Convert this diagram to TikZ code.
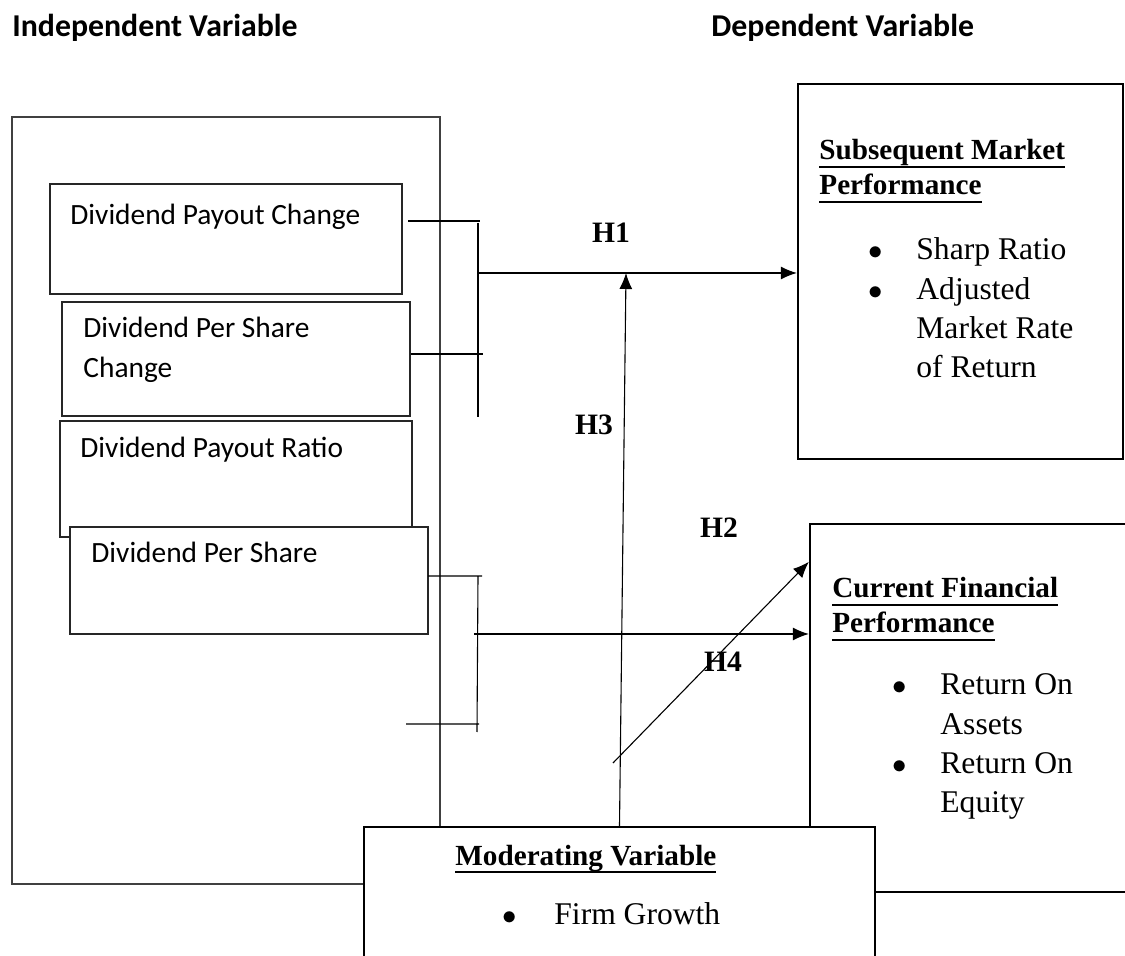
\documentclass[tikz,border=0pt]{standalone}
\usepackage{fontspec}
\setmainfont{Liberation Serif}
\newfontfamily\carlito{Carlito}
\usetikzlibrary{fit,positioning,arrows.meta}

\newcommand{\ulhead}[1]{\setbox0\hbox{#1}\rlap{\rule[-4pt]{\wd0}{1pt}}\box0}
\newcommand{\itembul}{\makebox[24pt][l]{$\bullet$}}

\begin{document}
\begin{tikzpicture}[x=0.5pt,y=-0.5pt]
\tikzstyle{indepbox}=[rectangle, inner sep=0pt, draw=black!75, line width=0.6pt]
\tikzstyle{varbox}=[rectangle, inner sep=0pt, draw=black!85, line width=0.65pt, fill=white]
\tikzstyle{perfbox}=[rectangle, inner sep=0pt, draw=black, line width=1.15pt, fill=white]
\tikzstyle{wire}=[line width=0.55pt]
\tikzstyle{connect}=[-{Latex[length=8pt,width=6.5pt]}, line width=0.55pt]
\tikzstyle{header}=[inner sep=0pt, anchor=base west, font=\carlito\bfseries\fontsize{15.9}{19}\selectfont]
\tikzstyle{vartext}=[inner sep=0pt, anchor=base west, font=\carlito\fontsize{14.7}{20}\selectfont]
\tikzstyle{headtext}=[inner sep=0pt, anchor=base west, font=\bfseries\fontsize{14.6}{17.5}\selectfont]
\tikzstyle{bultext}=[inner sep=0pt, anchor=base west, font=\fontsize{15.8}{19.6}\selectfont]
\tikzstyle{hlabel}=[inner sep=0pt, font=\bfseries\fontsize{14.8}{17}\selectfont]

\useasboundingbox (0,0) rectangle (1125,956);
\clip (0,0) rectangle (1125,956);

  \node[header] (indephead) at (12,37) {Independent Variable};
  \node[header] (dephead) at (711,37) {Dependent Variable};

  % independent variables
  \node[indepbox, fit={(12,117) (440,884)}] (indep) {};
  \node[varbox, fit={(50,184) (402,294)}] (dpc) {};
  \node[varbox, fit={(62,302) (410,416)}] (dpsc) {};
  \node[varbox, fit={(60,421) (412,537)}] (dpr) {};
  \node[varbox, fit={(70,527) (428,634)}] (dps) {};
  \node[vartext] (dpctext) at (70,225) {Dividend Payout Change};
  \node[vartext] (dpsctext) at (83,338) {\begin{tabular}[t]{@{}l@{}}Dividend Per Share\\Change\end{tabular}};
  \node[vartext] (dprtext) at (80,458) {Dividend Payout Ratio};
  \node[vartext] (dpstext) at (91,563) {Dividend Per Share};

  % upper bracket
  \coordinate (ua) at (408,221); \coordinate (ub) at (480,221);
  \coordinate (uc) at (411,354); \coordinate (ud) at (483,354);
  \coordinate (ut) at (478,223); \coordinate (us) at (478,417);
  \coordinate (uo) at (478,273);
  \draw[wire] (ua) -- (ub) (uc) -- (ud) (ut) -- (us);

  % lower bracket
  \coordinate (la) at (428,576); \coordinate (lb) at (482,576);
  \coordinate (lc) at (406,724); \coordinate (ld) at (479,724);
  \coordinate (lt) at (478,576); \coordinate (ls) at (477,732);
  \coordinate (lo) at (474,634);
  \draw[wire] (la) -- (lb) (lc) -- (ld) (lt) -- (ls);

  % dependent variables
  \node[perfbox, fit={(798,84) (1123,459)}] (smp) {};
  \node[perfbox, fit={(810,524) (1140,892)}] (cfp) {};
  \path (uo) edge [connect] (smp.west |- uo)
        (lo) edge [connect] (cfp.west |- lo);

  \node[headtext] (smphead) at (819,160) {\begin{tabular}[t]{@{}l@{}}\ulhead{Subsequent Market}\\\ulhead{Performance}\end{tabular}};
  \node[bultext] (smplist) at (868,260) {\begin{tabular}[t]{@{}l@{}l@{}}\itembul & Sharp Ratio\\\itembul & Adjusted\\ & Market Rate\\ & of Return\end{tabular}};
  \node[headtext] (cfphead) at (832,598) {\begin{tabular}[t]{@{}l@{}}\ulhead{Current Financial}\\\ulhead{Performance}\end{tabular}};
  \node[bultext] (cfplist) at (892,695) {\begin{tabular}[t]{@{}l@{}l@{}}\itembul & Return On\\ & Assets\\\itembul & Return On\\ & Equity\end{tabular}};

  % moderating variable
  \node[perfbox, fit={(364,827) (875,990)}] (mod) {};
  \node[headtext] (modhead) at (455,865) {\ulhead{Moderating Variable}};
  \node[bultext] (modlist) at (502,924) {\makebox[26pt][l]{$\bullet$}Firm Growth};

  \coordinate (h3end) at (626,273);
  \coordinate (h4start) at (613,763);
  \path (mod.north) edge [connect] (h3end)
        (h4start) edge [connect] ([yshift=-19.5pt]cfp.north west);

  \node[hlabel] (h1) at (611,233) {H1};
  \node[hlabel] (h2) at (719,528) {H2};
  \node[hlabel] (h3) at (594,425) {H3};
  \node[hlabel] (h4) at (723,662) {H4};
\end{tikzpicture}
\end{document}
